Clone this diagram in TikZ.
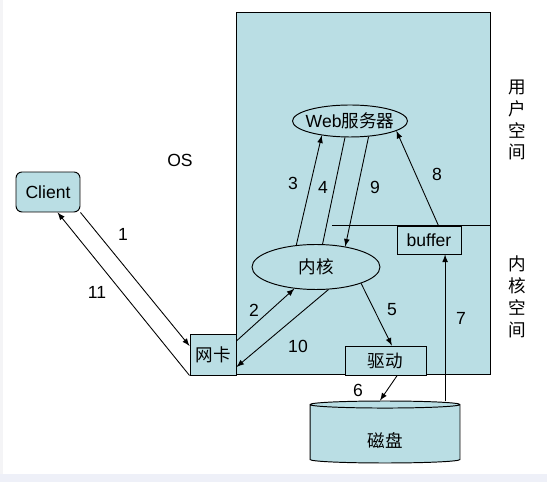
\documentclass[tikz,border=0pt]{standalone}
\usepackage{fontspec}
\setmainfont{Liberation Sans}
\newfontfamily\cjk{Noto Sans CJK SC}
\usepackage{tikz}
\usetikzlibrary{shapes.geometric}
\usetikzlibrary{positioning,calc}
\definecolor{paleblue}{RGB}{186,222,228}
\definecolor{bandgray}{RGB}{238,240,248}
\definecolor{stripgray}{RGB}{244,244,246}

\begin{document}
\begin{tikzpicture} [x=0.02cm, y=-0.02cm, >=latex,
    every node/.style={font=\fontsize{10}{12.5}\selectfont, inner sep=0pt},
    box/.style={rectangle, draw, fill=paleblue, line width=0.55pt},
    oval/.style={ellipse, draw, fill=paleblue, line width=0.55pt},
    side/.style={align=center, font=\fontsize{10}{12.5}\selectfont\cjk},
    con/.style={->, line width=0.5pt}
    ]
    \useasboundingbox (0,0) rectangle (547,482);
    \fill[bandgray] (0,474) rectangle (547,482);
    \fill[stripgray] (0,0) rectangle (3,474);

    \node (os) [box, minimum width=5.08cm, minimum height=7.26cm] at (363,193.5) {};
    \node (client) [box, rounded corners=0.12cm, minimum width=1.28cm,
      minimum height=0.8cm] at (48,192) {Client};
    \node (nic) [box, minimum width=0.92cm, minimum height=0.82cm] at (213,354.5) {\cjk 网卡};
    \node (drv) [box, minimum width=1.62cm, minimum height=0.58cm] at (385.5,360.5) {\cjk 驱动};
    \node (buf) [box, minimum width=1.28cm, minimum height=0.56cm] at (429,240) {buffer};
    \node (web) [oval, inner xsep=-0.1cm, minimum width=2.3cm, minimum height=0.64cm]
      at (350,121) {Web{\cjk 服务器}};
    \node (kern) [oval, minimum width=2.56cm, minimum height=0.9cm] at (316,267) {\cjk 内核};
    \node (disk) [cylinder, shape border rotate=90, aspect=0.2, draw, fill=paleblue,
      line width=0.55pt, minimum width=3cm, minimum height=1.24cm,
      text height=0.66cm, text depth=0.1cm] at (385,434) {\cjk 磁盘};

    \node (oslabel) at (180,160) {OS};
    \node (user) [side] at (517,120) {用\\户\\空\\间};
    \node (kspace) [side] at (517,297) {内\\核\\空\\间};

    % kernel / user split
    \coordinate (split) at (332,225);
    \draw[line width=0.55pt] (split) -- (split -| os.east);

    \draw [con] (client.south east) -- (nic.160);
    \draw [con] (nic.south west) -- (client.-65);
    \draw [con] (nic.30) -- (kern.225);
    \draw [con] (kern.132) -- (web.207);
    \draw [line width=0.5pt] (web.253) -- (kern.74);
    \draw [con] (kern.-20) -- (drv.67);
    \draw [con] (drv.-52) -- ($(disk.north)+(-5,0)$);
    \draw [con] (disk.north -| buf.-42) -- (buf.-42);
    \draw [con] (buf.57) -- (web.-12);
    \draw [con] (web.-40) -- (kern.35);
    \draw [con] (kern.-61) -- (nic.-28);

    \node (n1) at (123,234) {1};
    \node (n2) at (254,310) {2};
    \node (n3) at (293,183) {3};
    \node (n4) at (323,187) {4};
    \node (n5) at (392,310) {5};
    \node (n6) at (358,390) {6};
    \node (n7) at (461,318) {7};
    \node (n8) at (437,174) {8};
    \node (n9) at (375,187) {9};
    \node (n10) at (298,346) {10};
    \node (n11) at (97,292) {11};
  \end{tikzpicture}
\end{document}
